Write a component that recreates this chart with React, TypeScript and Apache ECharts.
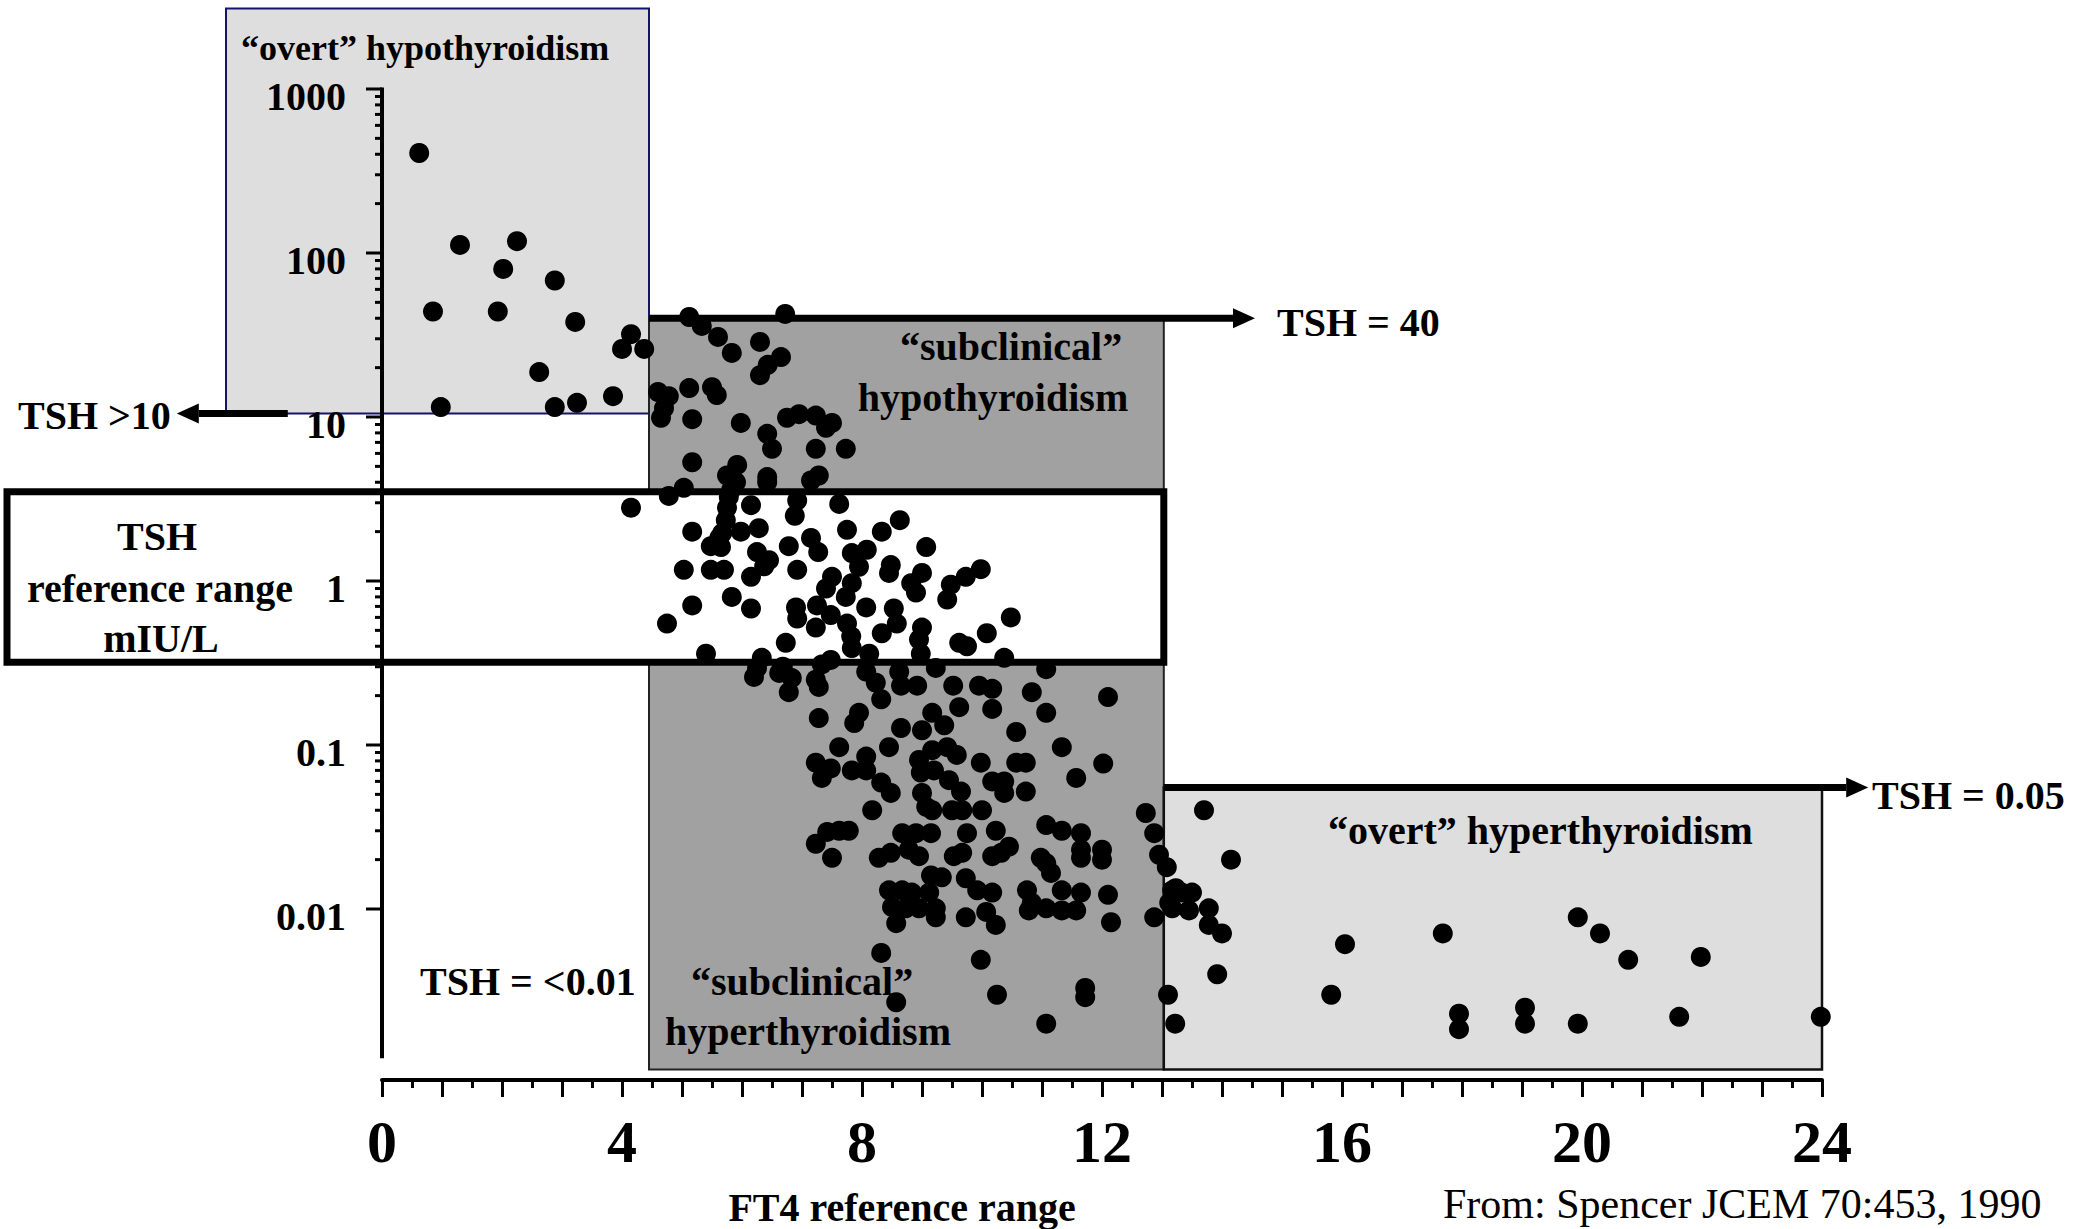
import React, { useEffect, useRef } from 'react';
import * as echarts from 'echarts';

const FONT = '"Liberation Serif", "Times New Roman", serif';

// FT4 (x) vs TSH (y, log) — [FT4, TSH]
const overtHypoPoints = [
  [0.62, 407], [0.85, 44], [0.98, 11.5], [1.3, 112], [1.93, 44], [2.02, 80], [2.25, 118], [2.62, 18.8],
  [2.88, 68], [2.88, 11.5], [3.22, 38], [3.25, 12.2], [3.85, 13.4], [4.0, 26], [4.15, 32], [4.37, 26],
];

const subHypoPoints = [
  [4.6, 14.2], [4.65, 9.9], [4.7, 11.3], [4.78, 13.4], [4.78, 3.3], [5.03, 3.7], [5.12, 40.7], [5.12, 15],
  [5.17, 9.7], [5.17, 5.3], [5.33, 35.9], [5.5, 15.2], [5.58, 13.6], [5.6, 30.8], [5.75, 4.4], [5.82, 3.6],
  [5.83, 24.6], [5.9, 4.0], [5.92, 5.1], [5.98, 9.2], [6.3, 28.7], [6.3, 18], [6.42, 7.9], [6.42, 4.3],
  [6.42, 4.0], [6.43, 20.8], [6.5, 6.4], [6.65, 23.2], [6.72, 42.5], [6.75, 9.9], [6.95, 10.4], [7.15, 4.1],
  [7.23, 10.2], [7.23, 6.4], [7.28, 4.4], [7.4, 8.6], [7.5, 9.2], [7.73, 6.4],
];

const refRangePoints = [
  [4.15, 2.8], [4.75, 0.55], [5.03, 1.17], [5.17, 2.0], [5.17, 0.71], [5.4, 0.36], [5.48, 1.63], [5.48, 1.17],
  [5.62, 1.83], [5.65, 1.61], [5.67, 1.96], [5.7, 1.17], [5.73, 2.35], [5.75, 2.8], [5.78, 3.25], [5.83, 0.8],
  [5.98, 2.0], [6.15, 2.9], [6.15, 1.06], [6.15, 0.68], [6.25, 1.5], [6.28, 2.1], [6.33, 0.34], [6.37, 1.23],
  [6.45, 1.34], [6.73, 0.42], [6.78, 1.63], [6.88, 2.5], [6.9, 0.69], [6.92, 3.1], [6.92, 1.17], [6.92, 0.59],
  [7.15, 1.83], [7.23, 0.52], [7.25, 0.71], [7.27, 1.5], [7.4, 0.9], [7.48, 0.62], [7.48, 0.33], [7.5, 1.06],
  [7.62, 2.95], [7.73, 0.8], [7.75, 2.05], [7.75, 0.55], [7.82, 0.46], [7.83, 1.48], [7.83, 0.97], [7.83, 0.39],
  [7.95, 1.22], [8.07, 0.69], [8.08, 1.55], [8.12, 0.36], [8.33, 2.0], [8.33, 0.48], [8.45, 1.12], [8.48, 1.25],
  [8.53, 0.68], [8.58, 0.55], [8.63, 2.35], [8.82, 0.97], [8.9, 0.85], [8.95, 0.44], [8.98, 0.36], [9.0, 1.12],
  [9.0, 0.52], [9.07, 1.61], [9.42, 0.77], [9.48, 0.95], [9.62, 0.42], [9.73, 1.06], [9.75, 0.4], [9.98, 1.18],
  [10.08, 0.48], [10.37, 0.34], [10.48, 0.6],
];

const subHyperPoints = [
  [6.2, 0.26], [6.25, 0.295], [6.62, 0.275], [6.68, 0.3], [6.78, 0.21], [6.83, 0.256], [7.23, 0.25], [7.23, 0.078],
  [7.23, 0.025], [7.28, 0.226], [7.28, 0.146], [7.33, 0.31], [7.33, 0.063], [7.42, 0.0295], [7.48, 0.072], [7.5, 0.0205],
  [7.62, 0.097], [7.62, 0.03], [7.78, 0.03], [7.83, 0.07], [7.87, 0.136], [7.95, 0.157], [8.07, 0.28], [8.07, 0.085],
  [8.07, 0.07], [8.17, 0.04], [8.23, 0.24], [8.28, 0.0205], [8.32, 0.19], [8.32, 0.059], [8.32, 0.0054], [8.45, 0.097],
  [8.45, 0.013], [8.48, 0.051], [8.48, 0.022], [8.5, 0.0103], [8.57, 0.0082], [8.57, 0.0027], [8.62, 0.28], [8.65, 0.23],
  [8.65, 0.127], [8.67, 0.029], [8.67, 0.013], [8.73, 0.0101], [8.78, 0.023], [8.83, 0.0126], [8.9, 0.029], [8.92, 0.23],
  [8.95, 0.081], [8.95, 0.021], [8.95, 0.0101], [8.98, 0.068], [9.0, 0.123], [9.0, 0.051], [9.07, 0.042], [9.12, 0.0126],
  [9.15, 0.029], [9.15, 0.016], [9.17, 0.157], [9.17, 0.093], [9.17, 0.04], [9.2, 0.07], [9.23, 0.295], [9.23, 0.0101],
  [9.23, 0.0089], [9.33, 0.0156], [9.37, 0.132], [9.42, 0.097], [9.45, 0.061], [9.5, 0.04], [9.52, 0.23], [9.53, 0.021],
  [9.58, 0.087], [9.62, 0.17], [9.65, 0.052], [9.67, 0.04], [9.67, 0.022], [9.73, 0.0154], [9.73, 0.0089], [9.75, 0.029],
  [9.92, 0.013], [9.95, 0.23], [9.98, 0.078], [9.98, 0.0049], [10.0, 0.04], [10.07, 0.0096], [10.17, 0.22], [10.17, 0.166],
  [10.17, 0.06], [10.17, 0.021], [10.17, 0.0126], [10.23, 0.03], [10.23, 0.008], [10.25, 0.003], [10.32, 0.022], [10.37, 0.06],
  [10.37, 0.051], [10.45, 0.024], [10.57, 0.12], [10.57, 0.078], [10.73, 0.078], [10.73, 0.052], [10.75, 0.013], [10.78, 0.0098],
  [10.83, 0.21], [10.83, 0.0109], [10.98, 0.0205], [11.07, 0.29], [11.07, 0.157], [11.07, 0.0325], [11.07, 0.019], [11.07, 0.0101],
  [11.07, 0.002], [11.15, 0.0166], [11.33, 0.097], [11.33, 0.03], [11.33, 0.013], [11.33, 0.0098], [11.57, 0.063], [11.57, 0.0098],
  [11.65, 0.029], [11.65, 0.023], [11.65, 0.0205], [11.65, 0.0126], [11.72, 0.0033], [11.72, 0.0029], [12.0, 0.023], [12.0, 0.02],
  [12.02, 0.077], [12.1, 0.196], [12.1, 0.0122], [12.15, 0.0083], [12.73, 0.0385], [12.87, 0.029], [12.87, 0.0089], [12.95, 0.0214],
];

const overtHyperPoints = [
  [13.08, 0.018], [13.1, 0.003], [13.12, 0.0109], [13.17, 0.013], [13.17, 0.0101], [13.22, 0.002], [13.23, 0.0134], [13.33, 0.0126],
  [13.45, 0.0098], [13.5, 0.0126], [13.7, 0.04], [13.78, 0.0101], [13.78, 0.008], [13.92, 0.004], [14.0, 0.0071], [14.15, 0.02],
  [15.82, 0.003], [16.05, 0.0061], [17.68, 0.0071], [17.95, 0.0023], [17.95, 0.00185], [19.05, 0.0025], [19.05, 0.002], [19.93, 0.0089],
  [19.93, 0.002], [20.3, 0.0071], [20.77, 0.0049], [21.62, 0.0022], [21.98, 0.0051], [23.98, 0.0022],
];

// Axis ticks / labels
const xTickLabels = [0, 4, 8, 12, 16, 20, 24];
const yMajorTicks = [0.01, 0.1, 1, 10, 100, 1000];
const yTickLabels = ['0.01', '0.1', '1', '10', '100', '1000'];
const yMinorTicks = [
  0.02, 0.03, 0.04, 0.05, 0.06, 0.07, 0.08, 0.09,
  0.2, 0.3, 0.4, 0.5, 0.6, 0.7, 0.8, 0.9,
  2, 3, 4, 5, 6, 7, 8, 9,
  20, 30, 40, 50, 60, 70, 80, 90,
  200, 300, 400, 500, 600, 700, 800, 900,
];
// Drawn extent of the TSH axis line
const yAxisLineRange = [0.00123, 1000];

// Zone bounds in data units: [ft4Min, ft4Max, tshMin, tshMax]
const overtHypoZone = [-2.6, 4.45, 10.5, 3100];
const subHypoZone = [4.45, 13.03, 3.5, 40];
const refRangeZone = [-6.25, 13.03, 0.32, 3.5];
const subHyperZone = [4.45, 13.03, 0.00105, 0.32];
const overtHyperZone = [13.03, 24, 0.00105, 0.055];

// Threshold arrows: [ft4From, ft4To(tip), tsh]
const arrowTsh40 = [4.45, 14.55, 40];
const arrowTsh005 = [13.03, 24.77, 0.055];
const arrowTsh10 = [-1.57, -3.42, 10.5];

const allPoints = [
  ...overtHypoPoints, ...subHypoPoints, ...refRangePoints, ...subHyperPoints, ...overtHyperPoints,
];

export default function App() {
  const ref = useRef<HTMLDivElement>(null);

  useEffect(() => {
    const chart = echarts.init(ref.current as HTMLDivElement, null, { renderer: 'svg' });

    const tickSeries = (values: number[], len: number) => ({
      type: 'custom',
      silent: true,
      clip: false,
      z: 4,
      data: values.map((v) => [0, v]),
      renderItem: (_p: any, api: any) => {
        const p = api.coord([api.value(0), api.value(1)]);
        return {
          type: 'line',
          shape: { x1: p[0] - len, y1: p[1], x2: p[0], y2: p[1] },
          style: { stroke: '#000', lineWidth: 3 },
        };
      },
    });

    chart.setOption({
      animation: false,
      backgroundColor: '#fff',
      grid: { left: 382, top: 89, width: 1440, height: 984, containLabel: false },
      xAxis: {
        type: 'value',
        min: 0,
        max: 24,
        interval: 1,
        offset: 7,
        axisLine: { onZero: false, lineStyle: { color: '#000', width: 4 } },
        axisTick: { show: true, length: 17, lineStyle: { color: '#000', width: 3 } },
        minorTick: { show: true, splitNumber: 2, length: 8, lineStyle: { color: '#000', width: 3 } },
        splitLine: { show: false },
        axisLabel: {
          margin: 32,
          fontSize: 60,
          fontWeight: 'bold',
          fontFamily: FONT,
          color: '#000',
          formatter: (v: number) => (xTickLabels.indexOf(v) >= 0 ? String(v) : ''),
        },
      },
      yAxis: {
        type: 'log',
        logBase: 10,
        min: 0.001,
        max: 1000,
        axisLine: { show: false, onZero: false },
        axisTick: { show: false },
        splitLine: { show: false },
        axisLabel: { show: false },
      },
      series: [
        {
          type: 'scatter',
          data: allPoints,
          symbol: 'circle',
          symbolSize: 20,
          clip: false,
          z: 5,
          itemStyle: { color: '#000', opacity: 1 },
        },
        // TSH axis line
        {
          type: 'custom',
          silent: true,
          clip: false,
          z: 4,
          data: [[0, yAxisLineRange[0], yAxisLineRange[1]]],
          renderItem: (_p: any, api: any) => {
            const a = api.coord([api.value(0), api.value(1)]);
            const b = api.coord([api.value(0), api.value(2)]);
            return {
              type: 'line',
              shape: { x1: a[0], y1: a[1], x2: b[0], y2: b[1] - 1.5 },
              style: { stroke: '#000', lineWidth: 4 },
            };
          },
        },
        tickSeries(yMajorTicks, 16),
        tickSeries(yMinorTicks, 7),
        // TSH axis labels
        {
          type: 'custom',
          silent: true,
          clip: false,
          z: 4,
          data: yMajorTicks.map((v, i) => [0, v, i]),
          renderItem: (_p: any, api: any) => {
            const p = api.coord([api.value(0), api.value(1)]);
            return {
              type: 'text',
              x: p[0] - 36,
              y: p[1] + 7,
              style: {
                text: yTickLabels[api.value(2)],
                fontSize: 40,
                fontWeight: 'bold',
                fontFamily: FONT,
                fill: '#000',
                align: 'right',
                textAlign: 'right',
                verticalAlign: 'middle',
                textVerticalAlign: 'middle',
              },
            };
          },
        },
      ],
    });

    const px = (x: number, y: number) => chart.convertToPixel({ gridIndex: 0 }, [x, y]) as number[];
    const rectOf = (b: number[], style: any, z: number) => {
      const p1 = px(b[0], b[3]);
      const p2 = px(b[1], b[2]);
      return {
        type: 'rect',
        z,
        silent: true,
        shape: { x: p1[0], y: p1[1], width: p2[0] - p1[0], height: p2[1] - p1[1] },
        style,
      };
    };
    const arrowOf = (a: number[]) => {
      const s = px(a[0], a[2]);
      const t = px(a[1], a[2]);
      const dir = t[0] > s[0] ? 1 : -1;
      const headLen = 22;
      const headHalf = 10;
      const base = t[0] - dir * headLen;
      return [
        {
          type: 'line', z: 1, silent: true,
          shape: { x1: s[0], y1: s[1], x2: base, y2: t[1] },
          style: { stroke: '#000', lineWidth: 7 },
        },
        {
          type: 'polygon', z: 1, silent: true,
          shape: { points: [[t[0], t[1]], [base, t[1] - headHalf], [base, t[1] + headHalf]] },
          style: { fill: '#000' },
        },
      ];
    };
    const txt = (text: string, x: number, y: number, align: string, size = 40, weight = 'bold') => ({
      type: 'text',
      z: 2,
      silent: true,
      x,
      y,
      style: {
        text,
        fontSize: size,
        fontWeight: weight,
        fontFamily: FONT,
        fill: '#000',
        textAlign: align,
        align,
        textVerticalAlign: 'middle',
        verticalAlign: 'middle',
      },
    });

    chart.setOption({
      graphic: [
        rectOf(overtHypoZone, { fill: '#dedede', stroke: '#14146a', lineWidth: 2 }, -3),
        rectOf(subHypoZone, { fill: '#a1a1a1', stroke: '#222', lineWidth: 2 }, -3),
        rectOf(subHyperZone, { fill: '#a1a1a1', stroke: '#222', lineWidth: 2 }, -3),
        rectOf(overtHyperZone, { fill: '#dedede', stroke: '#111', lineWidth: 2.5 }, -3),
        rectOf(refRangeZone, { fill: '#ffffff', stroke: '#000', lineWidth: 7 }, -2),
        ...arrowOf(arrowTsh40),
        ...arrowOf(arrowTsh005),
        ...arrowOf(arrowTsh10),
        txt('\u201Covert\u201D hypothyroidism', 241, 48, 'left', 36),
        txt('TSH >10', 18, 415, 'left'),
        txt('TSH = 40', 1277, 322, 'left'),
        txt('\u201Csubclinical\u201D', 1011, 346, 'center'),
        txt('hypothyroidism', 993, 397, 'center'),
        txt('TSH', 157, 536, 'center'),
        txt('reference range', 160, 588, 'center'),
        txt('mIU/L', 161, 638, 'center'),
        txt('TSH = <0.01', 420, 981, 'left'),
        txt('\u201Csubclinical\u201D', 802, 981, 'center'),
        txt('hyperthyroidism', 808, 1031, 'center'),
        txt('\u201Covert\u201D hyperthyroidism', 1328, 830, 'left'),
        txt('TSH = 0.05', 1872, 795, 'left'),
        txt('FT4 reference range', 902, 1207, 'center'),
        txt('From: Spencer JCEM 70:453, 1990', 1443, 1204, 'left', 42, 'normal'),
      ],
    });

    return () => chart.dispose();
  }, []);

  return (
    <div
      ref={ref}
      style={{ position: 'fixed', left: 0, top: 0, width: 2076, height: 1229, background: '#fff' }}
    />
  );
}
